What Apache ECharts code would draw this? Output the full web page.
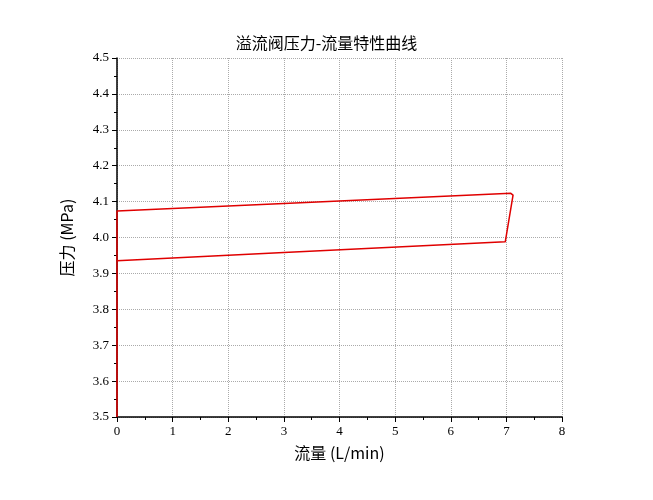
<!DOCTYPE html><html><head><meta charset="utf-8"><script src="https://cdn.jsdelivr.net/npm/echarts@6/dist/echarts.min.js"></script></head><body style="margin:0"><div id="c" style="width:653px;height:500px"></div><script>
var flowX=[0,0,3,6.98,7.12,7.08,3,0,0];
var pressY=[3.5,3.935,3.958,3.988,4.118,4.123,4.095,4.074,3.5];
var data=flowX.map(function(x,i){return [x,pressY[i]];});
var ch=echarts.init(document.getElementById('c'));
var serif='"Liberation Serif","DejaVu Serif",serif';
function ax(name,min,max,iv,gap){return {type:'value',name:name,nameLocation:'middle',nameGap:gap,min:min,max:max,interval:iv,
nameTextStyle:{fontSize:16,color:'#000',fontFamily:'"Noto Sans CJK SC",sans-serif'},
axisLine:{show:true,onZero:false,lineStyle:{color:'#000',width:1.5}},
axisTick:{show:true,inside:false,length:5,lineStyle:{color:'#000'}},
minorTick:{show:true,splitNumber:2,length:3,lineStyle:{color:'#000'}},
axisLabel:{color:'#000',fontSize:13,fontFamily:serif},
splitLine:{show:true,lineStyle:{type:'dotted',color:'#aaa'}}};}
var y=ax('压力 (MPa)',3.5,4.5,0.1,42);y.axisLabel.formatter=function(v){return v.toFixed(1);};
ch.setOption({animation:false,
title:{text:'溢流阀压力-流量特性曲线',left:'center',top:30,textStyle:{fontSize:16,fontWeight:'normal',color:'#000',fontFamily:'"Noto Sans CJK SC",sans-serif'}},
grid:{left:117,right:91,top:58,bottom:83},
xAxis:ax('流量 (L/min)',0,8,1,28),yAxis:y,
series:[{type:'line',data:data,showSymbol:false,lineStyle:{color:'#e00000',width:1.5},smooth:false}]});
</script></body></html>
